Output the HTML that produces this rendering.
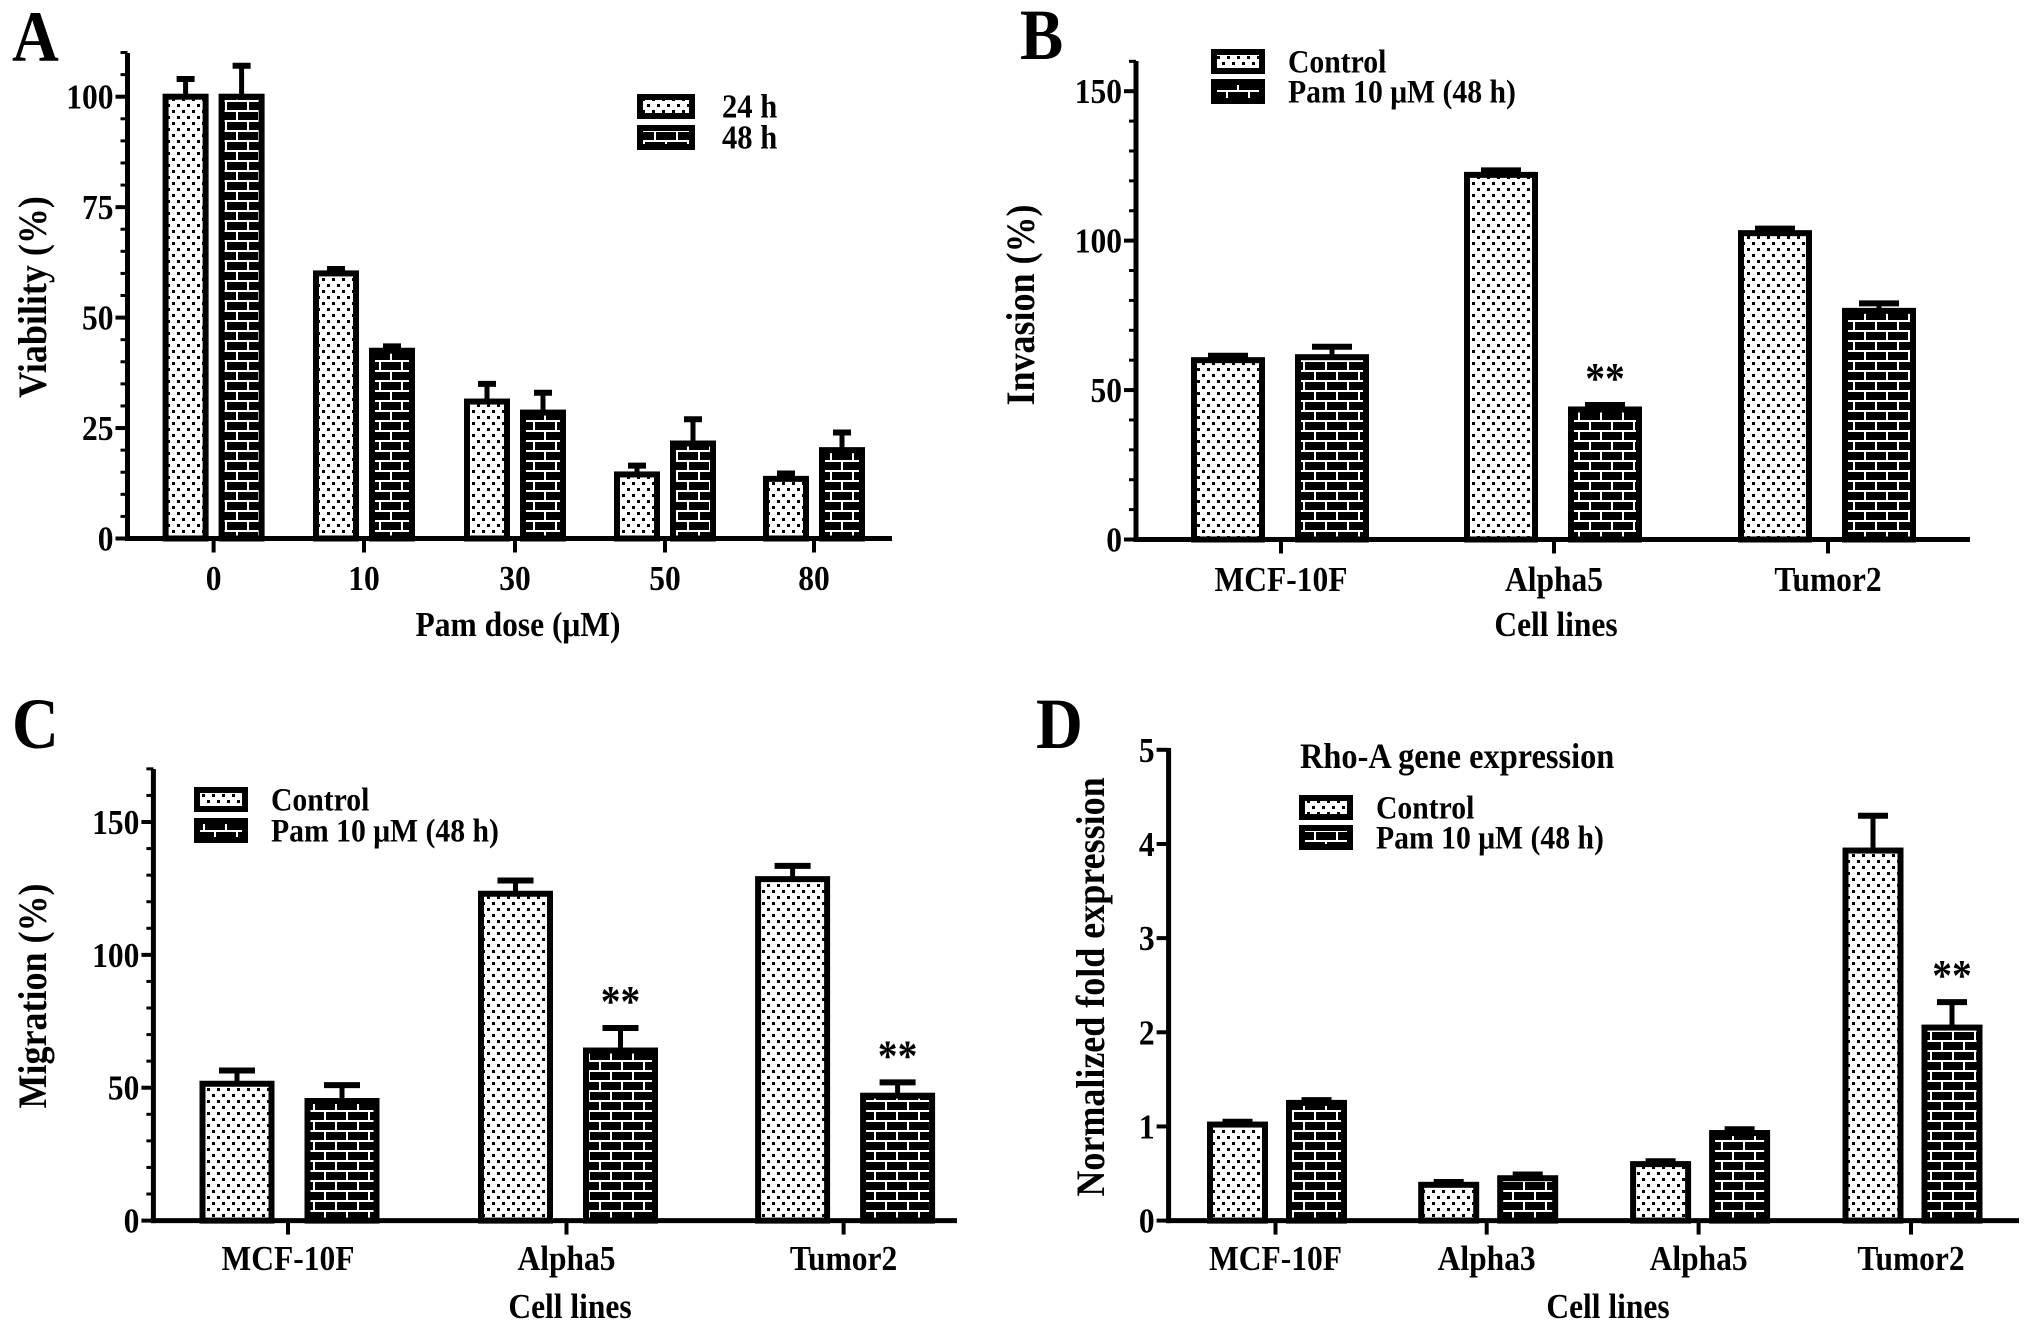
<!DOCTYPE html>
<html><head><meta charset="utf-8">
<style>
html,body{margin:0;padding:0;background:#fff;}
svg{display:block;}
text{font-family:"Liberation Serif",serif;font-weight:bold;fill:#000;}
</style></head>
<body>
<svg id="fig" width="2031" height="1330" viewBox="0 0 2031 1330" xmlns="http://www.w3.org/2000/svg">
<defs>
<pattern id="dots" width="10" height="12" patternUnits="userSpaceOnUse">
<rect width="10" height="12" fill="#fff"/>
<rect x="2" y="2" width="3" height="3" fill="#000"/>
<rect x="7" y="8" width="3" height="3" fill="#000"/>
</pattern>
<pattern id="bricks" width="22" height="20" patternUnits="userSpaceOnUse">
<rect width="22" height="20" fill="#000"/>
<rect x="0" y="0" width="22" height="2" fill="#fff"/>
<rect x="0" y="10" width="22" height="2" fill="#fff"/>
<rect x="5" y="0" width="2" height="10" fill="#fff"/>
<rect x="16" y="10" width="2" height="10" fill="#fff"/>
</pattern>
</defs>
</svg>
<script>
// Panel A data
const aCats = ["0","10","30","50","80"];
const a24 = [100,60,31,14.5,13.5];
const a24Err = [4,1,4,2,1.2];
const a48 = [100,42.5,28.5,21.5,20];
const a48Err = [7,1,4.5,5.5,4];
const aTicks = [0,25,50,75,100];
// Panel B data
const bCats = ["MCF-10F","Alpha5","Tumor2"];
const bCtrl = [60,122,102.5];
const bCtrlErr = [1.5,1.5,1.5];
const bPam = [61,43.5,76.5];
const bPamErr = [3.5,1.5,2.5];
const bTicks = [0,50,100,150];
// Panel C data
const cCats = ["MCF-10F","Alpha5","Tumor2"];
const cCtrl = [51.5,123,128.5];
const cCtrlErr = [5,5,5];
const cPam = [45,64,47];
const cPamErr = [6,8.5,5];
const cTicks = [0,50,100,150];
// Panel D data
const dCats = ["MCF-10F","Alpha3","Alpha5","Tumor2"];
const dCtrl = [1.02,0.38,0.6,3.93];
const dCtrlErr = [0.03,0.03,0.03,0.37];
const dPam = [1.25,0.45,0.93,2.05];
const dPamErr = [0.03,0.04,0.04,0.27];
const dTicks = [0,1,2,3,4,5];

const NS="http://www.w3.org/2000/svg";
const svg=document.getElementById('fig');
const SX=0.9;
function mk(tag,attrs,parent){const e=document.createElementNS(NS,tag);for(const k in attrs)e.setAttribute(k,attrs[k]);(parent||svg).appendChild(e);return e;}
function txt(s,x,y,size,anchor,parent){const t=mk('text',{x:x/SX,y:y,'font-size':size,'text-anchor':anchor||'middle',transform:'scale('+SX+',1)'},parent);t.textContent=s;return t;}

function panel(cfg){
  const g=mk('g',{});
  
  
  const yS=v=>cfg.base-v*(cfg.base-cfg.yTopVal)/cfg.topVal;
  cfg.series.forEach((s,si)=>{
    s.vals.forEach((v,i)=>{
      const cx=cfg.ticksX[i]+s.off;
      const top=yS(v);
      const eTop=yS(v+s.err[i]);
      const l=mk('line',{x1:cx,y1:top,x2:cx,y2:eTop,stroke:'#000','stroke-width':5},g);
      
      
      const c=mk('line',{x1:cx-cfg.cap/2,y1:eTop,x2:cx+cfg.cap/2,y2:eTop,stroke:'#000','stroke-width':6},g);
      
      
      const r=mk('rect',{x:cx-cfg.bw/2,y:top,width:cfg.bw,height:cfg.base-top,fill:s.fill,stroke:'#000','stroke-width':6},g);
      
      
      if(s.stars && s.stars[i]){
        const t=txt('**',cx,eTop-12,44,'middle',g);
        
        
      }
    });
  });
  const ya=mk('line',{x1:cfg.axX,y1:cfg.axTop,x2:cfg.axX,y2:cfg.base+2.5,stroke:'#000','stroke-width':5},g);
  
  
  const xa=mk('line',{x1:cfg.axX-2.5,y1:cfg.base,x2:cfg.axEnd,y2:cfg.base,stroke:'#000','stroke-width':5},g);
  
  
  if(cfg.minor){
    for(let v=cfg.minor; yS(v)>=cfg.axTop-1; v+=cfg.minor){
      mk('line',{x1:cfg.axX-7,y1:yS(v),x2:cfg.axX,y2:yS(v),stroke:'#000','stroke-width':3},g);
    }
  }
  cfg.yticks.forEach(v=>{
    mk('line',{x1:cfg.axX-12,y1:yS(v),x2:cfg.axX,y2:yS(v),stroke:'#000','stroke-width':4},g);
    const t=txt(String(v),cfg.axX-14,yS(v)+12,cfg.fs,'end',g);
    
    
  });
  cfg.cats.forEach((c,i)=>{
    mk('line',{x1:cfg.ticksX[i],y1:cfg.base,x2:cfg.ticksX[i],y2:cfg.base+14,stroke:'#000','stroke-width':4},g);
    const t=txt(c,cfg.ticksX[i],cfg.xLabY,cfg.fs,'middle',g);
    
    
  });
  const xt=txt(cfg.xTitle,cfg.xTitleX,cfg.xTitleY,cfg.fs,'middle',g);
  
  
  const yt=mk('text',{x:0,y:0,'font-size':40,'text-anchor':'middle'},g);
  yt.textContent=cfg.yTitle;
  yt.setAttribute('transform','translate('+(cfg.yTitleX+14)+','+cfg.yTitleY+') rotate(-90) scale('+SX+',1)');
  
  
  const pl=txt(cfg.letter,cfg.letterX,cfg.letterY,72,'start',g);
  
  
  cfg.series.forEach((s,si)=>{
    const ly=cfg.legY[si];
    const r=mk('rect',{x:cfg.legX,y:ly,width:cfg.legW,height:cfg.legH,fill:s.fill,stroke:'#000','stroke-width':6},g);
    
    
    const t=txt(s.label,cfg.legTX,ly+cfg.legH/2+11,cfg.legFs,'start',g);
    
    
  });
  if(cfg.title){
    const t=txt(cfg.title,cfg.titleX,cfg.titleY,36,'start',g);
    
    
  }
}

panel({name:'panel-a-viability',letter:'A',letterX:12,letterY:61,cats:aCats,
  axX:127.5,axTop:53,axEnd:892,base:538.5,yTopVal:96.7,topVal:100,yticks:aTicks,minor:5,
  ticksX:[213.6,364,515,665,814],bw:40,cap:18,fs:35,xLabY:590,
  xTitle:'Pam dose (\u03BCM)',xTitleX:518,xTitleY:636,yTitle:'Viability (%)',yTitleX:32,yTitleY:297,
  legX:640,legY:[97,128],legW:52,legH:19,legTX:722,legFs:34,
  series:[{key:'24h',label:'24 h',vals:a24,err:a24Err,off:-28,fill:'url(#dots)'},
          {key:'48h',label:'48 h',vals:a48,err:a48Err,off:28,fill:'url(#bricks)'}]});

panel({name:'panel-b-invasion',letter:'B',letterX:1020,letterY:59,cats:bCats,
  axX:1136,axTop:61,axEnd:1970,base:539.5,yTopVal:91.2,topVal:150,yticks:bTicks,minor:10,
  ticksX:[1281,1554,1828],bw:68,cap:40,fs:35,xLabY:591,
  xTitle:'Cell lines',xTitleX:1556,xTitleY:636,yTitle:'Invasion (%)',yTitleX:1020,yTitleY:305,
  legX:1214,legY:[52,82],legW:48,legH:19,legTX:1288,legFs:33,
  series:[{key:'control',label:'Control',vals:bCtrl,err:bCtrlErr,off:-53,fill:'url(#dots)'},
          {key:'pam',label:'Pam 10 \u03BCM (48 h)',vals:bPam,err:bPamErr,off:51,fill:'url(#bricks)',stars:[0,1,0]}]});

panel({name:'panel-c-migration',letter:'C',letterX:12,letterY:748,cats:cCats,
  axX:153.4,axTop:769,axEnd:957,base:1220.6,yTopVal:822,topVal:150,yticks:cTicks,minor:10,
  ticksX:[288,566.5,843.6],bw:69,cap:36,fs:35,xLabY:1270,
  xTitle:'Cell lines',xTitleX:570,xTitleY:1318,yTitle:'Migration (%)',yTitleX:32,yTitleY:996,
  legX:197,legY:[790,821],legW:48,legH:19,legTX:271,legFs:33,
  series:[{key:'control',label:'Control',vals:cCtrl,err:cCtrlErr,off:-51,fill:'url(#dots)'},
          {key:'pam',label:'Pam 10 \u03BCM (48 h)',vals:cPam,err:cPamErr,off:54,fill:'url(#bricks)',stars:[0,1,1]}]});

panel({name:'panel-d-rhoa-expression',letter:'D',letterX:1036,letterY:748,cats:dCats,
  axX:1168.6,axTop:748,axEnd:2019,base:1220.6,yTopVal:749.8,topVal:5,yticks:dTicks,minor:0,
  ticksX:[1275.5,1486.7,1698.6,1911],bw:55,cap:30,fs:35,xLabY:1270,
  xTitle:'Cell lines',xTitleX:1608,xTitleY:1318,yTitle:'Normalized fold expression',yTitleX:1090,yTitleY:987,
  legX:1302,legY:[798,828],legW:48,legH:19,legTX:1376,legFs:33,title:'Rho-A gene expression',titleX:1300,titleY:768,
  series:[{key:'control',label:'Control',vals:dCtrl,err:dCtrlErr,off:-38,fill:'url(#dots)'},
          {key:'pam',label:'Pam 10 \u03BCM (48 h)',vals:dPam,err:dPamErr,off:41,fill:'url(#bricks)',stars:[0,0,0,1]}]});
</script>
</body></html>
